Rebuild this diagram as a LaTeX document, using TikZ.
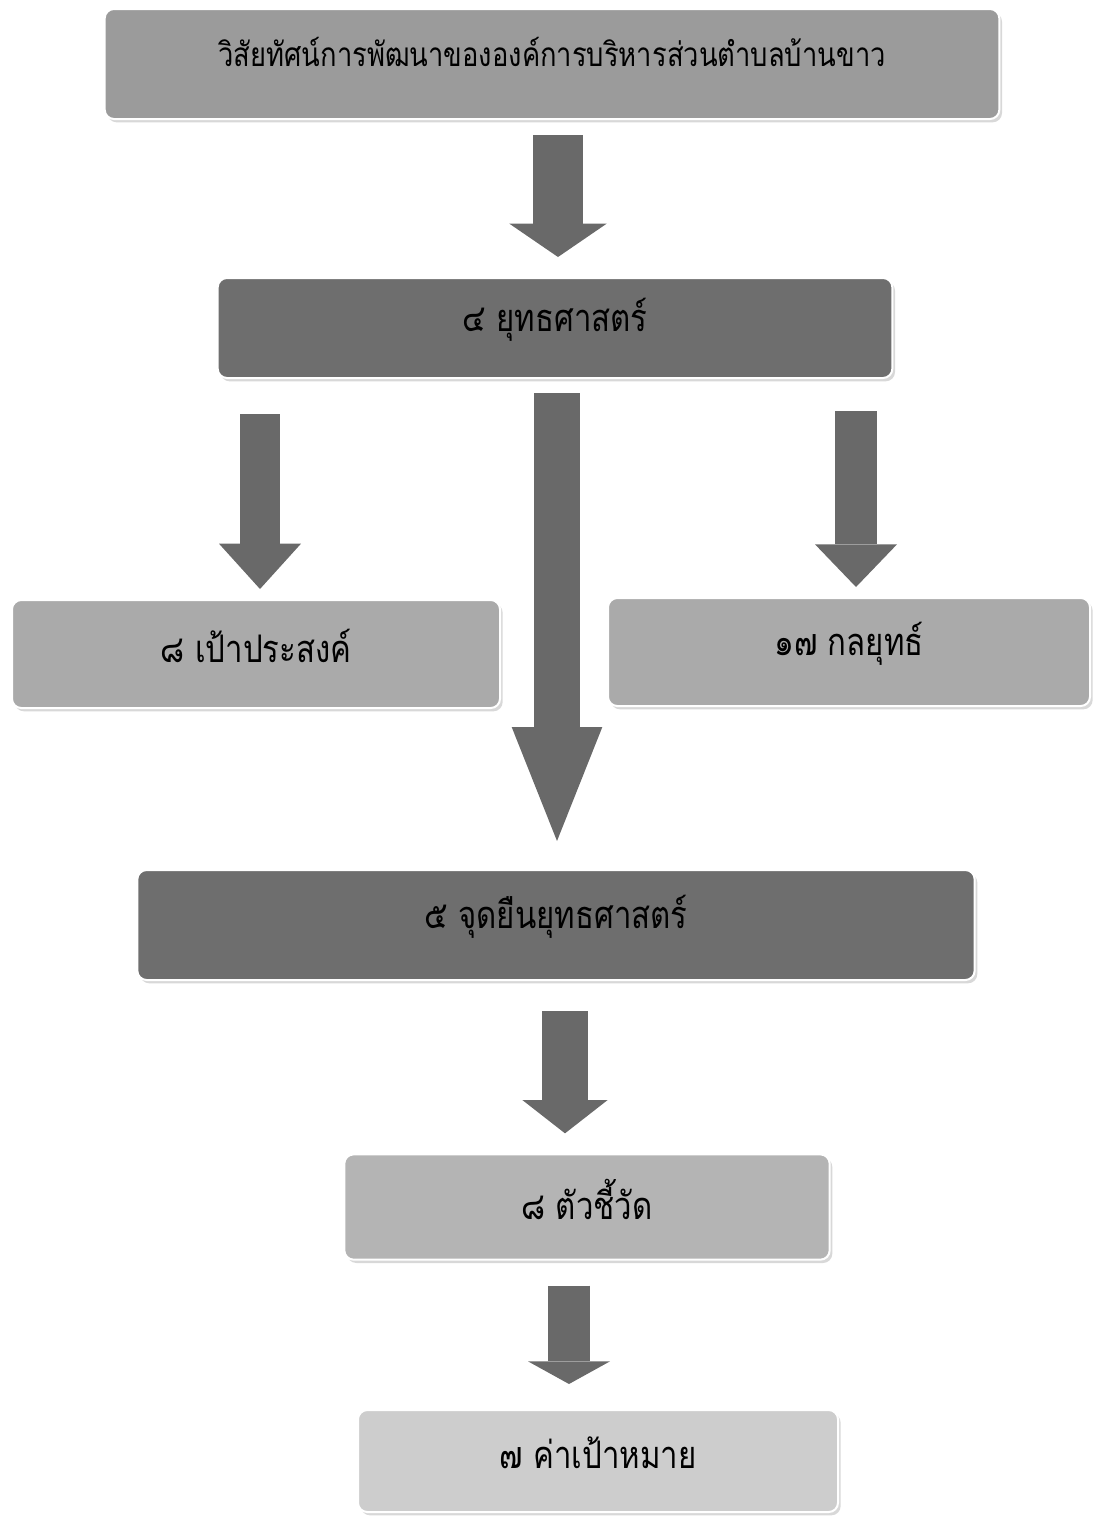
\documentclass[tikz,border=0pt]{standalone}
\usepackage{fontspec}
\newfontfamily\thaifont[Script=Thai,FakeStretch=0.82]{Loma}
\usetikzlibrary{arrows.meta,calc,shadows}

\definecolor{grayVision}{RGB}{155,155,155}
\definecolor{grayDark}{RGB}{110,110,110}
\definecolor{grayMid}{RGB}{170,170,170}
\definecolor{grayLight}{RGB}{180,180,180}
\definecolor{grayPale}{RGB}{205,205,205}
\definecolor{arrowGray}{RGB}{105,105,105}

\newcommand{\lift}[1]{\raisebox{6pt}[\height][\depth]{#1}}

\tikzset{every picture/.style={line width=0.75pt}}
\tikzset{
  panel/.style={rounded corners=7pt, draw=white, line width=1.5pt, inner sep=0pt,
    font=\thaifont\fontsize{28.5}{32}\selectfont,
    drop shadow={shadow xshift=2pt, shadow yshift=-2.5pt, fill=black!30}},
  bigarrow/.style n args={3}{draw=arrowGray, line width=#1,
    -{Triangle[width=#2, length=#3, line width=0pt]}},
}

\begin{document}
\begin{tikzpicture}[x=0.75pt,y=0.75pt,yscale=-1,xscale=1]
%set diagram left start at 0, and has height of 1521
\useasboundingbox (0,0) rectangle (1097,1521);

%Rounded Rect [vision]
\draw (552,64) node [panel, fill=grayVision, minimum width=671pt, minimum height=82.5pt,
  font=\thaifont\fontsize{25}{28}\selectfont] (vision) {\raisebox{9pt}[\height][\depth]{วิสัยทัศน์การพัฒนาขององค์การบริหารส่วนตำบลบ้านขาว}};
%Rounded Rect [strategy]
\draw (555,328) node [panel, fill=grayDark, minimum width=506pt, minimum height=75pt] (strat) {\lift{๔ ยุทธศาสตร์}};
%Rounded Rect [goal]
\draw (256,654) node [panel, fill=grayMid, minimum width=366pt, minimum height=81pt] (goal) {\lift{๘ เป้าประสงค์}};
%Rounded Rect [tactic]
\draw (849,652) node [panel, fill=grayMid, minimum width=361.5pt, minimum height=81pt] (tactic) {\lift{๑๗ กลยุทธ์}};
%Rounded Rect [stance]
\draw (556,925) node [panel, fill=grayDark, minimum width=628pt, minimum height=82.5pt] (stance) {\lift{๕ จุดยืนยุทธศาสตร์}};
%Rounded Rect [indicator]
\draw (587,1207) node [panel, fill=grayLight, minimum width=364pt, minimum height=79pt] (indic) {\lift{๘ ตัวชี้วัด}};
%Rounded Rect [target]
\draw (598,1461) node [panel, fill=grayPale, minimum width=360pt, minimum height=76.5pt] (target) {\lift{๗ ค่าเป้าหมาย}};

%Block Arrows
\draw [bigarrow={37.5pt}{73pt}{25pt}] ($(vision.south)+(6,15)$) -- ($(vision.south |- strat.north)+(6,-20)$);
\draw [bigarrow={30pt}{61.5pt}{34pt}] ($(goal.north |- strat.south)+(4,35)$) -- ($(goal.north)+(4,-10)$);
\draw [bigarrow={34pt}{68pt}{85.5pt}] ($(strat.south)+(2,14)$) -- ($(strat.south |- stance.north)+(2,-28)$);
\draw [bigarrow={31.5pt}{61.5pt}{32pt}] ($(tactic.north |- strat.south)+(7,32)$) -- ($(tactic.north)+(7,-10)$);
\draw [bigarrow={34pt}{64pt}{25pt}] ($(stance.south)+(9,30)$) -- ($(stance.south |- indic.north)+(9,-20)$);
\draw [bigarrow={31.5pt}{61.5pt}{17pt}] ($(indic.south)+(-18,25)$) -- ($(indic.south |- target.north)+(-18,-25)$);
\end{tikzpicture}
\end{document}
